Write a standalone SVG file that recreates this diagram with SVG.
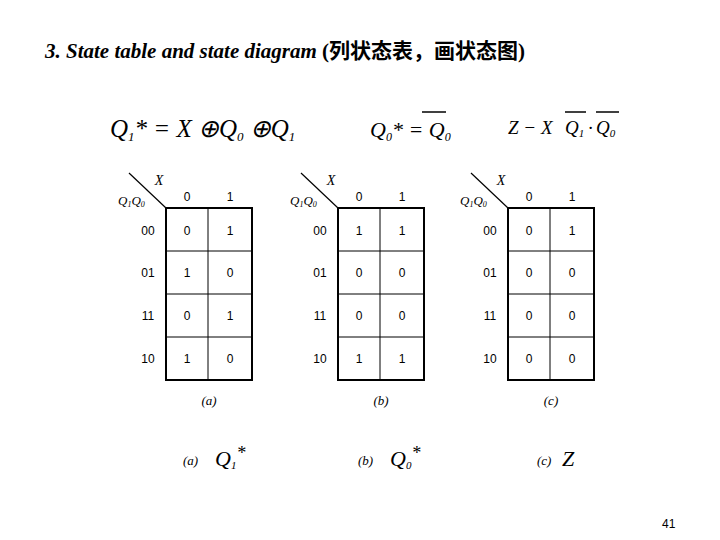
<svg xmlns="http://www.w3.org/2000/svg" width="720" height="540" viewBox="0 0 720 540">
<style>
.t{font-family:"Liberation Serif",serif;font-size:16px;fill:#000}
.m{font-family:"Liberation Serif",serif;font-style:italic;fill:#000}
.s{font-family:"Liberation Sans",sans-serif;font-size:12px}
.g{fill:none;stroke:#000;stroke-width:1}
.o{fill:none;stroke:#000;stroke-width:2}
.c{text-anchor:middle}
</style>
<rect width="720" height="540" fill="#fff"/>
<text x="45" y="58" font-family="Liberation Serif, Noto Sans CJK SC, serif" font-size="21" font-weight="bold"><tspan font-style="italic">3.  State table and state diagram </tspan>(列状态表，画状态图)</text>
<g id="equations">
<text class="m" x="110" y="137" font-size="25">Q<tspan font-size="13" dy="4">1</tspan><tspan dy="-4">* = X ⊕Q</tspan><tspan font-size="13" dy="4">0</tspan><tspan dy="-4"> ⊕Q</tspan><tspan font-size="13" dy="4">1</tspan></text>
<text class="m" x="370" y="137" font-size="22">Q<tspan font-size="12" dy="4">0</tspan><tspan dy="-4">* = Q</tspan><tspan font-size="12" dy="4">0</tspan></text>
<line x1="422" y1="112" x2="446" y2="112" stroke="#000" stroke-width="1.5"/>
<text class="m" x="508" y="134" font-size="19">Z − X</text>
<text class="m" x="565" y="134" font-size="19">Q<tspan font-size="11" dy="3">1</tspan></text>
<text class="m" x="588" y="134" font-size="19">·</text>
<text class="m" x="596" y="134" font-size="19">Q<tspan font-size="11" dy="3">0</tspan></text>
<line x1="565" y1="112" x2="586" y2="112" stroke="#000" stroke-width="1.5"/>
<line x1="596" y1="112" x2="619" y2="112" stroke="#000" stroke-width="1.5"/>
</g>
<defs>
<g id="frame">
<line x1="-37" y1="-35" x2="0" y2="0" stroke="#000" stroke-width="1.2"/>
<text class="m c" x="-7" y="-23" font-size="14">X</text>
<text class="m" x="-48" y="-3" font-size="13">Q<tspan font-size="8" dy="2">1</tspan><tspan dy="-2">Q</tspan><tspan font-size="8" dy="2">0</tspan></text>
<text class="s c" x="21" y="-7">0</text><text class="s c" x="64" y="-7">1</text>
<text class="s c" x="-18" y="27">00</text><text class="s c" x="-18" y="69">01</text>
<text class="s c" x="-18" y="112">11</text><text class="s c" x="-18" y="155">10</text>
<rect class="o" x="0" y="0" width="86" height="172"/>
<line class="g" x1="42" y1="0" x2="42" y2="172"/>
<line class="g" x1="0" y1="43" x2="86" y2="43"/>
<line class="g" x1="0" y1="86" x2="86" y2="86"/>
<line class="g" x1="0" y1="129" x2="86" y2="129"/>
</g>
</defs>
<g id="table-a" transform="translate(166,208)">
<use href="#frame"/>
<g class="s c"><text x="21" y="27">0</text><text x="64" y="27">1</text><text x="21" y="69">1</text><text x="64" y="69">0</text><text x="21" y="112">0</text><text x="64" y="112">1</text><text x="21" y="155">1</text><text x="64" y="155">0</text></g>
<text class="m c" x="43" y="197" font-size="13">(a)</text>
</g>
<g id="table-b" transform="translate(338,208)">
<use href="#frame"/>
<g class="s c"><text x="21" y="27">1</text><text x="64" y="27">1</text><text x="21" y="69">0</text><text x="64" y="69">0</text><text x="21" y="112">0</text><text x="64" y="112">0</text><text x="21" y="155">1</text><text x="64" y="155">1</text></g>
<text class="m c" x="43" y="197" font-size="13">(b)</text>
</g>
<g id="table-c" transform="translate(508,208)">
<use href="#frame"/>
<g class="s c"><text x="21" y="27">0</text><text x="64" y="27">1</text><text x="21" y="69">0</text><text x="64" y="69">0</text><text x="21" y="112">0</text><text x="64" y="112">0</text><text x="21" y="155">0</text><text x="64" y="155">0</text></g>
<text class="m c" x="43" y="197" font-size="13">(c)</text>
</g>
<g id="captions">
<text class="m" x="183" y="465" font-size="13">(a)</text>
<text class="m" x="215" y="466" font-size="22">Q<tspan font-size="11" dy="3">1</tspan><tspan dy="-10" font-size="18">*</tspan></text>
<text class="m" x="358" y="465" font-size="13">(b)</text>
<text class="m" x="390" y="466" font-size="22">Q<tspan font-size="11" dy="3">0</tspan><tspan dy="-10" font-size="18">*</tspan></text>
<text class="m" x="537" y="465" font-size="13">(c)</text>
<text class="m" x="562" y="466" font-size="22">Z</text>
</g>
<text x="662" y="528" font-family="Liberation Sans, sans-serif" font-size="12">41</text>
</svg>
